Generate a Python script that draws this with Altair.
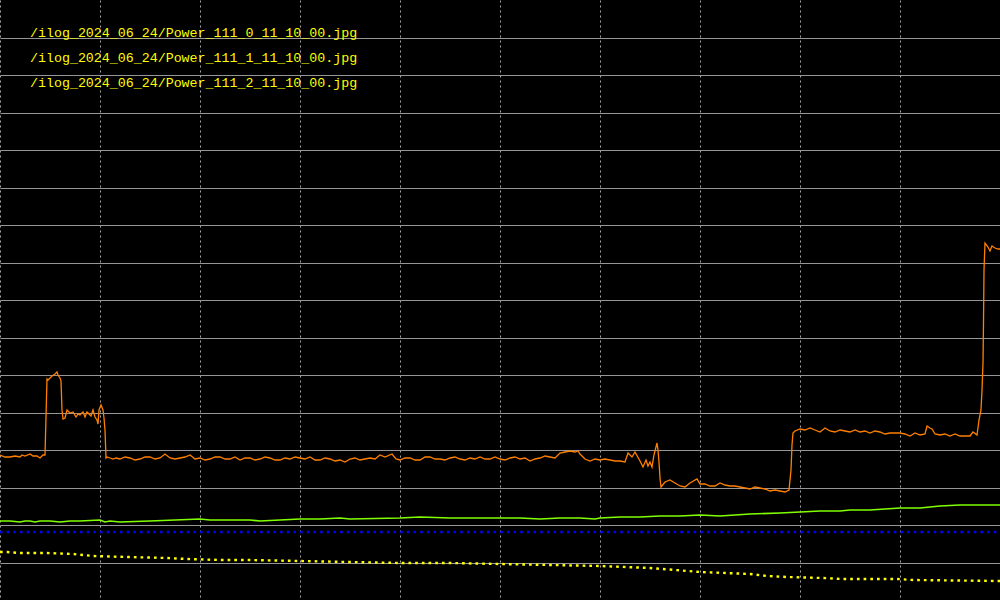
import altair as alt
import pandas as pd

# ---------------- data ----------------
labels = [
    "/ilog_2024_06_24/Power_111_0_11_10_00.jpg",
    "/ilog_2024_06_24/Power_111_1_11_10_00.jpg",
    "/ilog_2024_06_24/Power_111_2_11_10_00.jpg",
]

orange_x = [0, 5, 10, 15, 20, 22, 25, 30, 33, 37, 40, 43, 45, 46, 47, 48, 50, 52, 55, 57,
            58, 60, 61, 62, 63, 65, 67, 70, 73, 76, 78, 80, 83, 85, 87, 89, 91, 93, 95, 97,
            98, 99, 101, 103, 104, 105, 106, 107, 110, 113, 116, 120, 125, 130, 135, 140, 145, 150, 155, 160,
            165, 170, 175, 180, 185, 190, 195, 200, 205, 210, 215, 220, 225, 230, 235, 240, 245, 250, 255, 260,
            265, 270, 275, 280, 285, 290, 295, 300, 305, 310, 315, 320, 325, 330, 335, 340, 345, 350, 355, 360,
            365, 370, 375, 380, 385, 392, 396, 400, 405, 410, 415, 420, 425, 430, 435, 440, 445, 450, 455, 460,
            465, 470, 475, 480, 485, 490, 495, 500, 505, 510, 515, 520, 525, 530, 535, 540, 545, 550, 555, 560,
            565, 570, 575, 578, 580, 585, 590, 595, 600, 605, 610, 615, 620, 625, 628, 632, 635, 640, 643, 646,
            648, 650, 652, 654, 656, 657, 658, 659, 660, 661, 665, 670, 675, 680, 685, 690, 697, 700, 705, 710,
            715, 720, 725, 730, 735, 740, 745, 750, 755, 760, 765, 770, 775, 780, 785, 789, 791, 792, 793, 795,
            800, 805, 810, 815, 820, 825, 830, 835, 840, 845, 850, 855, 860, 865, 870, 875, 880, 885, 890, 895,
            900, 905, 910, 915, 920, 925, 927, 930, 932, 935, 940, 945, 950, 955, 960, 965, 970, 973, 977, 979,
            981, 982, 983, 983.5, 984, 985, 988, 990, 992, 995, 998, 1000]
orange_v = [145, 143, 143, 144, 143, 145, 144, 146, 144, 144, 142, 145, 145, 183, 221, 220, 222, 224, 226, 228,
            225, 222, 219, 190, 181, 182, 190, 187, 188, 183, 186, 185, 188, 183, 188, 186, 184, 190, 183, 180,
            176, 190, 195, 190, 182, 170, 142, 143, 142, 141, 142, 141, 143, 142, 140, 141, 143, 143, 141, 142,
            146, 142, 141, 142, 143, 145, 141, 142, 140, 141, 143, 143, 141, 141, 143, 140, 142, 142, 140, 141,
            143, 142, 140, 140, 142, 141, 143, 142, 141, 143, 140, 140, 142, 141, 139, 140, 138, 141, 142, 140,
            141, 142, 141, 145, 143, 146, 141, 140, 142, 142, 140, 140, 143, 143, 141, 141, 140, 142, 143, 141,
            140, 142, 141, 143, 141, 141, 143, 141, 140, 142, 143, 141, 142, 139, 141, 142, 144, 143, 142, 147,
            148, 149, 148, 149, 146, 141, 139, 141, 140, 141, 140, 139, 139, 138, 147, 143, 148, 139, 133, 140,
            134, 138, 133, 145, 153, 157, 150, 138, 122, 113, 118, 120, 117, 114, 113, 117, 121, 116, 116, 114,
            114, 117, 115, 114, 114, 113, 112, 111, 113, 112, 111, 109, 110, 109, 108, 110, 130, 155, 167, 169,
            171, 170, 172, 170, 168, 172, 169, 168, 170, 169, 168, 170, 168, 169, 167, 169, 168, 166, 167, 167,
            167, 166, 164, 167, 165, 166, 174, 172, 171, 166, 165, 166, 164, 166, 164, 164, 164, 168, 165, 180,
            190, 210, 237, 277, 330, 357, 353, 349, 354, 352, 351, 351]

green_x = [0, 10, 20, 25, 30, 35, 40, 50, 60, 70, 80, 100, 105, 110, 120, 150, 175, 200, 210, 250,
           260, 300, 320, 340, 350, 400, 420, 450, 480, 500, 520, 540, 560, 580, 595, 600, 620, 640, 660, 680,
           700, 720, 750, 780, 800, 820, 840, 850, 870, 900, 920, 940, 960, 980, 1000]
green_v = [79, 79, 78, 79, 79, 78, 79, 79, 78, 79, 79, 80, 78, 79, 78, 79, 80, 81, 80, 80,
           79, 81, 81, 82, 81, 82, 83, 82, 82, 82, 82, 81, 82, 82, 81, 82, 83, 83, 84, 84,
           85, 84, 86, 87, 88, 89, 89, 90, 90, 92, 92, 94, 95, 95, 95]

blue_x = [0, 1000]
blue_v = [68, 68]

yellow_x = [0, 7, 20, 47, 73, 93, 127, 167, 187, 220, 247, 300, 350, 400, 450, 500, 550, 600, 650, 700,
            750, 767, 787, 823, 843, 897, 913, 1000]
yellow_v = [48, 48, 47, 47, 46, 44, 43, 42, 41, 40, 40, 39, 38, 37, 37, 36, 35, 34, 32, 28,
            26, 24, 23, 22, 21, 21, 20, 19]

x_grid = [0, 100, 200, 300, 400, 500, 600, 700, 800, 900, 1000]
y_grid = [37.5, 75, 112.5, 150, 187.5, 225, 262.5, 300, 337.5, 375, 412.5, 450, 487.5, 525, 562.5]

# ---------------- chart ----------------
xscale = alt.Scale(domain=[0, 1000], nice=False, zero=False)
yscale = alt.Scale(domain=[0, 600], nice=False, zero=False)

ax_x = alt.Axis(values=x_grid, grid=True, gridDash=[2, 3], gridColor="#a8a8a8", gridWidth=1,
                domain=False, ticks=False, labels=False, title="")
ax_y = alt.Axis(values=y_grid, grid=True, gridColor="#969696", gridWidth=1,
                domain=False, ticks=False, labels=False, title="")


def line_layer(xs, vs, color, width, dash=None):
    df = pd.DataFrame({"x": xs, "v": vs})
    kw = dict(color=color, strokeWidth=width, clip=True)
    if dash is not None:
        kw["strokeDash"] = dash
    return alt.Chart(df).mark_line(**kw).encode(
        x=alt.X("x:Q", scale=xscale, axis=ax_x),
        y=alt.Y("v:Q", scale=yscale, axis=ax_y),
    )


layers = [
    line_layer(green_x, green_v, "#80ff00", 1.6),
    line_layer(blue_x, blue_v, "#0000ff", 2.6, [2.5, 4.17]),
    line_layer(yellow_x, yellow_v, "#ffff00", 2.4, [2.7, 4.0]),
    line_layer(orange_x, orange_v, "#ff8000", 1.3),
]

text_y = [37, 62, 87]
for lab, ty in zip(labels, text_y):
    layers.append(
        alt.Chart(pd.DataFrame({"t": [lab]})).mark_text(
            font="Liberation Mono", fontSize=13.3, color="#ffff00",
            align="left", baseline="alphabetic"
        ).encode(x=alt.value(30), y=alt.value(ty), text="t:N")
    )

chart = alt.layer(*layers).properties(
    width=1000, height=600, background="#000000", padding=0,
    autosize=alt.AutoSizeParams(type="none"),
).configure_view(strokeWidth=0)

chart.save("out.html", embed_options={"renderer": "svg", "actions": False})
